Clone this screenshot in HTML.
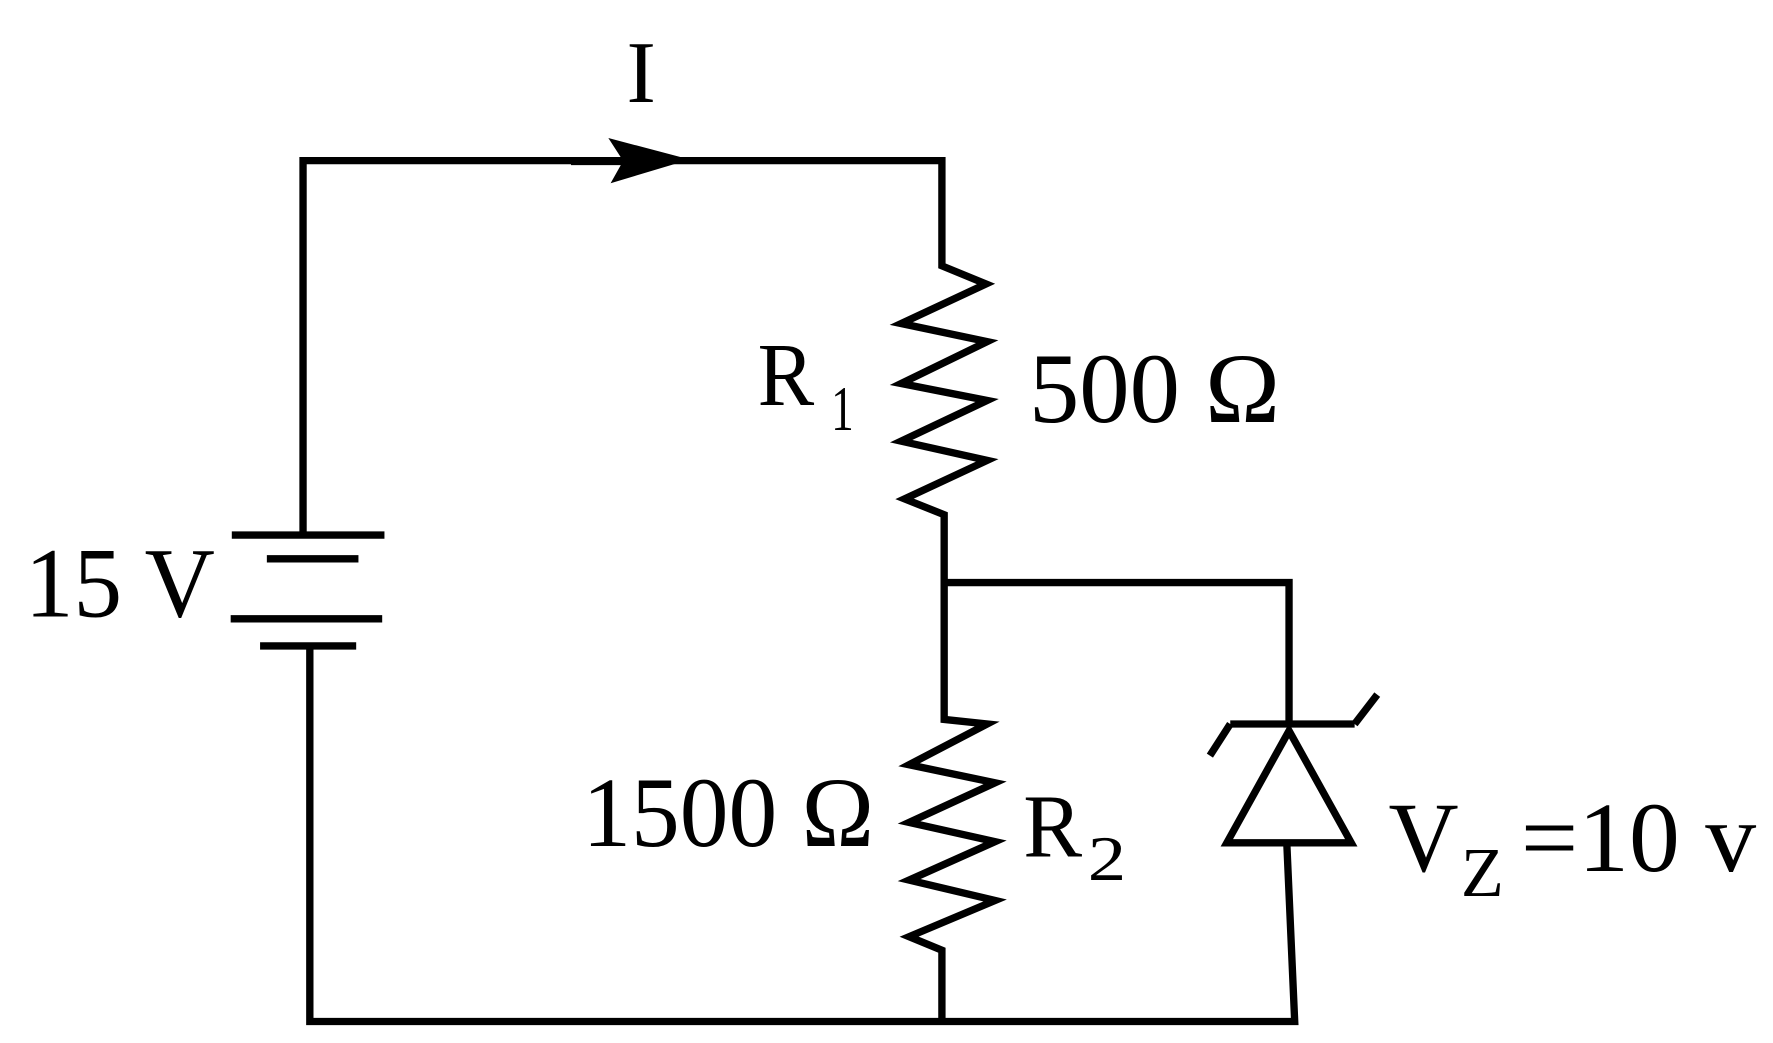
<!DOCTYPE html>
<html><head><meta charset="utf-8"><style>
html,body{margin:0;padding:0;background:#fff;}
svg{display:block;}
</style></head><body>
<svg width="1773" height="1043" viewBox="0 0 1568 922" preserveAspectRatio="none" xmlns="http://www.w3.org/2000/svg">
<g fill="none" stroke="#000" stroke-width="6.5" stroke-linejoin="miter">
<polyline points="268,470 268,142 833,142 833,235 872,251 797,286 873,302 797,339 873,354 797,390 873,407 800,441 835,455 835,636 873,640 804,676 880,692 804,727 880,744 804,778 880,796 804,828 833,840 833,903"/>
<line x1="205" y1="473" x2="340" y2="473"/>
<line x1="236" y1="494" x2="317" y2="494"/>
<line x1="204" y1="547" x2="338" y2="547"/>
<line x1="230" y1="571" x2="315" y2="571"/>
<polyline points="274,571 274,903 1145,903 1138,745"/>
<polyline points="835,515 1140,515 1140,640"/>
<line x1="1088" y1="640" x2="1198" y2="640"/>
<line x1="1088" y1="640" x2="1070" y2="668"/>
<line x1="1198" y1="640" x2="1218" y2="614"/>
<polygon points="1140,646 1195,745 1085,745"/>
</g>
<polygon points="538,122 610,141 540,162 549,146 505,146 505,139 549,139" fill="#000"/>
<g font-family="Liberation Serif, Times New Roman, serif" fill="#000">
<text x="567" y="90" font-size="78" text-anchor="middle" font-family="Liberation Serif">I</text>
<text x="670" y="358" font-size="80" textLength="50" lengthAdjust="spacingAndGlyphs" font-family="Liberation Serif">R</text>
<text x="735" y="380" font-size="56" textLength="20" lengthAdjust="spacingAndGlyphs" font-family="Liberation Serif">1</text>
<text x="910" y="373" font-size="88" textLength="222" lengthAdjust="spacingAndGlyphs" font-family="Liberation Serif">500 Ω</text>
<text x="22" y="545" font-size="88" textLength="168" lengthAdjust="spacingAndGlyphs" font-family="Liberation Serif">15 V</text>
<text x="515" y="748" font-size="88" textLength="258" lengthAdjust="spacingAndGlyphs" font-family="Liberation Serif">1500 Ω</text>
<text x="905" y="757" font-size="80" textLength="52" lengthAdjust="spacingAndGlyphs" font-family="Liberation Serif">R</text>
<text x="962" y="778" font-size="56" textLength="34" lengthAdjust="spacingAndGlyphs" font-family="Liberation Serif">2</text>
<text x="1228" y="770" font-size="88" textLength="62" lengthAdjust="spacingAndGlyphs" font-family="Liberation Serif">V</text>
<text x="1292" y="792" font-size="62" textLength="38" lengthAdjust="spacingAndGlyphs" font-family="Liberation Serif">Z</text>
<text x="1345" y="770" font-size="88" textLength="208" lengthAdjust="spacingAndGlyphs" font-family="Liberation Serif">=10 v</text>
</g>
</svg>
</body></html>
